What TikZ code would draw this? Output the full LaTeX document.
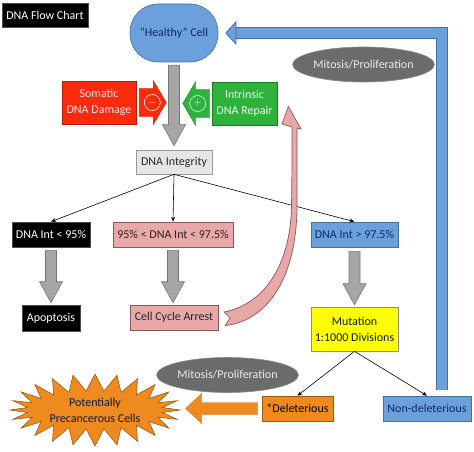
\documentclass[tikz,border=0pt]{standalone}
\usepackage{fontspec}
\setmainfont{Carlito}
\usetikzlibrary{arrows.meta,shapes.geometric,shapes.symbols,calc}

\definecolor{cellblue}{HTML}{6CA0DC}
\definecolor{bluedraw}{HTML}{41719C}
\definecolor{navy}{HTML}{0D2A6B}
\definecolor{arrowgray}{HTML}{A6A6A6}
\definecolor{arrowdraw}{HTML}{767676}
\definecolor{damagered}{HTML}{FA2A0C}
\definecolor{reddraw}{HTML}{B81E08}
\definecolor{repairgreen}{HTML}{2DB23C}
\definecolor{greendraw}{HTML}{1F7A2A}
\definecolor{arrestpink}{HTML}{E8A8A8}
\definecolor{pinkdraw}{HTML}{8E5656}
\definecolor{mutyellow}{HTML}{FFFF00}
\definecolor{delorange}{HTML}{EE8A1E}
\definecolor{orangedraw}{HTML}{9C5A14}
\definecolor{mitgray}{HTML}{6B6B6B}
\definecolor{integgray}{HTML}{E6E6E6}

% vertical gray block arrow between two points
\newcommand{\vblock}[2]{%
  \draw[grayarrow] let \p1=(#1), \p2=(#2) in
    (\x1-5.5pt,\y1) -- (\x1+5.5pt,\y1) -- (\x1+5.5pt,\y2+21pt)
    -- (\x1+11.5pt,\y2+21pt) -- (\x1,\y2) -- (\x1-11.5pt,\y2+21pt)
    -- (\x1-5.5pt,\y2+21pt) -- cycle;}
% horizontal block arrow: style, from, to, shaft half, head half, head length
\newcommand{\hblock}[6]{%
  \draw[#1] let \p1=(#2), \p2=(#3), \p3=($(#3)!#6!(#2)$) in
    (\x1,\y1-#4) -- (\x3,\y1-#4) -- (\x3,\y1-#5) -- (\x2,\y2)
    -- (\x3,\y1+#5) -- (\x3,\y1+#4) -- (\x1,\y1+#4) -- cycle;}

\begin{document}
\begin{tikzpicture}[x=1pt,y=-1pt,>={Stealth[length=5pt,width=4pt]},
font=\fontsize{12}{16}\selectfont,semithick]
\tikzstyle{box}=[draw,line width=0.6pt,inner sep=0pt,align=center]
\tikzstyle{blackbox}=[box,fill=black,draw=black!70,text=white]
\tikzstyle{bluebox}=[box,fill=cellblue,draw=bluedraw,text=navy]
\tikzstyle{redbox}=[box,fill=damagered,draw=reddraw,text=red!8]
\tikzstyle{greenbox}=[box,fill=repairgreen,draw=greendraw,text=green!5]
\tikzstyle{pinkbox}=[box,fill=arrestpink,draw=pinkdraw,text=black!85]
\tikzstyle{graybox}=[box,fill=integgray,draw=black!40,text=black!85]
\tikzstyle{yellowbox}=[box,fill=mutyellow,draw=black!45,text=navy!60!black]
\tikzstyle{orangebox}=[box,fill=delorange,draw=orangedraw,text=black]
\tikzstyle{mitosis}=[ellipse,fill=mitgray,draw=mitgray!80,text=white!92!black,
  minimum width=137pt,minimum height=35pt,inner sep=0pt]
\tikzstyle{burst}=[starburst,starburst points=24,starburst point height=17pt,
  random starburst=0,fill=delorange,draw=orangedraw,line width=0.6pt,
  minimum width=170pt,minimum height=72pt,inner sep=0pt,align=center,
  text=navy!60!black]
\tikzstyle{grayarrow}=[fill=arrowgray,draw=arrowdraw,line width=0.6pt]
\tikzstyle{redarrow}=[fill=damagered,draw=damagered!80!black,line width=0.4pt]
\tikzstyle{greenarrow}=[fill=repairgreen,draw=repairgreen!80!black,line width=0.4pt]
\tikzstyle{orangearrow}=[fill=delorange,draw=delorange!85!black,line width=0.4pt]
\tikzstyle{pinkarrow}=[fill=arrestpink,draw=pinkdraw,line width=0.7pt]
\tikzstyle{sign}=[circle,draw=white,line width=0.6pt,minimum size=16pt,
  inner sep=0pt,text=white,font=\fontsize{10}{10}\selectfont]
\tikzstyle{bluepipe}=[draw=bluedraw,line width=0.7pt,double=cellblue,
  double distance=10pt,line join=miter]
\useasboundingbox (0,0) rectangle (474,452);

\node[blackbox,minimum width=86pt,minimum height=24pt] (title) at (45,15) {DNA Flow Chart};
\node[bluebox,rounded corners=28pt,minimum width=88pt,minimum height=58pt] (cell) at (174,33) {“Healthy” Cell};
\node[redbox,minimum width=74pt,minimum height=43pt] (damage) at (99,102.5) {Somatic\\DNA Damage};
\node[greenbox,minimum width=65pt,minimum height=43pt] (repair) at (244.5,103.5) {Intrinsic\\DNA Repair};
\node[graybox,minimum width=76pt,minimum height=24pt] (integrity) at (174,162) {DNA Integrity};
\node[blackbox,minimum width=78pt,minimum height=25pt] (low) at (51,234.5) {DNA Int < 95\%};
\node[pinkbox,minimum width=120pt,minimum height=25pt] (mid) at (173,234.5) {95\% < DNA Int < 97.5\%};
\node[bluebox,minimum width=87pt,minimum height=25pt] (high) at (354.5,234.5) {DNA Int > 97.5\%};
\node[blackbox,minimum width=58pt,minimum height=26pt] (apop) at (51,318) {Apoptosis};
\node[pinkbox,minimum width=88pt,minimum height=25pt] (arrest) at (174,317.5) {Cell Cycle Arrest};
\node[yellowbox,minimum width=87pt,minimum height=44pt] (mutation) at (354.5,329) {Mutation\\1:1000 Divisions};
\node[orangebox,minimum width=71pt,minimum height=25pt] (del) at (297.5,408.5) {*Deleterious};
\node[bluebox,minimum width=88pt,minimum height=25pt] (nondel) at (427,408.5) {Non-deleterious};
\node[burst] (cancer) at (95,410) {Potentially\\Precancerous Cells};
\node[mitosis] (mitup) at (363.5,64.5) {Mitosis/Proliferation};
\node[mitosis] (mitlow) at (227.5,375) {Mitosis/Proliferation};

% gray block arrows
\vblock{$(cell.south)+(0,3)$}{$(integrity.north)+(0,-4)$}
\vblock{$(low.south)+(0,3)$}{$(apop.north)+(0,-2)$}
\vblock{$(mid.south)+(0,3)$}{$(arrest.north)+(0,-2)$}
\vblock{$(high.south)+(0,4)$}{$(mutation.north)+(0,-2)$}

% damage and repair
\hblock{redarrow}{$(damage.east)+(3,0)$}{$(damage.east)+(30,0)$}{14pt}{22pt}{13pt}
\hblock{greenarrow}{$(repair.west)+(-2,0)$}{$(repair.west)+(-29,0)$}{14pt}{22pt}{13pt}
\node[sign] (minus) at ($(damage.east)+(16,0)$) {$-$};
\node[sign] (plus) at ($(repair.west)+(-14,0)$) {$+$};

% branches
\draw[->] (integrity.south) -- (low.north);
\draw[->] (integrity.south) -- (mid.north);
\draw[->] (integrity.south) -- (high.north);
\draw[->] (mutation.south) -- (del.north);
\draw[->] (mutation.south) -- (nondel.north);

% arrest back to repair (curved arrow)
\coordinate (tail) at ($(arrest.east)+(7,8)$);
\coordinate (tip) at ($(repair.east)+(11,3)$);
\draw[pinkarrow] (tail) .. controls (262,322) and (297,285) .. (297,205)
  .. controls (297,170) and (297,145) .. (297,128) -- (301,129) -- (tip)
  -- (282,124) -- (292,127) .. controls (292,150) and (292,175) .. (291.5,205)
  .. controls (291,262) and (266,304) .. (224,312) -- (230,318) -- cycle;

% deleterious to cancer
\hblock{orangearrow}{$(del.west)+(-4,0)$}{$(del.west)+(-76,0)$}{6pt}{15pt}{16pt}

% non-deleterious back to cell
\draw[bluepipe] ($(nondel.north)+(15,-6)$) |- ($(cell.east)+(18,0)$);
\draw[bluedraw,line width=0.7pt,-{Triangle[length=11pt,width=24pt,fill=cellblue]}]
  ($(cell.east)+(19,0)$) -- ($(cell.east)+(7,0)$);
\end{tikzpicture}
\end{document}
